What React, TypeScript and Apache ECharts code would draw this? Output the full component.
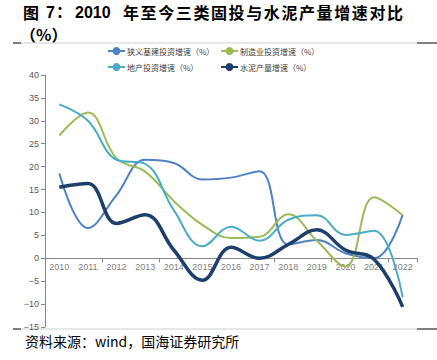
import React, { useEffect, useRef } from "react";
import * as echarts from "echarts";

const categories = ["2010", "2011", "2012", "2013", "2014", "2015", "2016", "2017", "2018", "2019", "2020", "2021", "2022"];
const infra = [18.5, 6.6, 13.8, 21.5, 20.8, 17.2, 17.6, 19.0, 3.0, 4.0, 1.1, 0.0, 9.5];
const manufacturing = [26.8, 31.8, 21.8, 18.9, 12.5, 7.3, 4.4, 4.7, 9.6, 3.8, -1.8, 13.3, 9.4];
const realEstate = [33.6, 30.0, 21.5, 20.6, 10.5, 2.6, 6.9, 3.8, 8.4, 9.4, 5.1, 6.0, -8.5];
const cement = [15.5, 16.3, 7.6, 9.5, 1.8, -4.8, 2.4, 0.0, 3.0, 6.2, 1.8, -0.2, -10.6];
const seriesNames = ["狭义基建投资增速（%）", "制造业投资增速（%）", "地产投资增速（%）", "水泥产量增速（%）"];
const titleHead = "年至今三类固投与水泥产量增速对比";
const sourceText = "资料来源：wind，国海证券研究所";

const LAT = "'Liberation Sans','Noto Sans CJK SC',sans-serif";
const CJK = "'Noto Sans CJK SC','Liberation Sans',sans-serif";

export default function App() {
  const ref = useRef<HTMLDivElement>(null);
  useEffect(() => {
    if (!ref.current) return;
    const chart = echarts.init(ref.current, undefined, { renderer: "svg" });
    const colors = ["#4F81C4", "#9BBB59", "#4BACC6", "#1F3F6B"];
    const widths = [2, 2, 2, 3.5];
    const datas = [infra, manufacturing, realEstate, cement];

    const tStyle = (text: string, fam: string) => ({
      text,
      font: `bold 16px ${fam}`,
      fill: "#000",
      verticalAlign: "middle",
      lineHeight: 16,
    });
    const titleGraphics: any[] = [
      { type: "text", x: 23, y: 12, style: tStyle("图", CJK) },
      { type: "text", x: 46, y: 12, style: tStyle("7", LAT) },
      { type: "text", x: 56, y: 12, style: { ...tStyle("：", CJK), font: `bold 16px ${LAT}` } },
      { type: "text", x: 75, y: 12, style: tStyle("2010", LAT) },
    ];
    titleHead.split("").forEach((ch, i) => {
      titleGraphics.push({ type: "text", x: 123 + i * 17.6, y: 12, style: tStyle(ch, CJK) });
    });
    titleGraphics.push({ type: "text", x: 20, y: 34, style: tStyle("（%）", CJK) });

    const rule = (y: number) => [
      { type: "line", shape: { x1: 21, y1: y, x2: 417, y2: y }, style: { stroke: "#d0d0d0", lineWidth: 1 } },
      { type: "line", shape: { x1: 13, y1: y, x2: 21, y2: y }, style: { stroke: "#555", lineWidth: 1.5 } },
      { type: "line", shape: { x1: 417, y1: y, x2: 437, y2: y }, style: { stroke: "#555", lineWidth: 1.5 } },
    ];

    const legendPos = [
      [107, 51],
      [220, 51],
      [107, 67],
      [220, 67],
    ];

    chart.setOption({
      animation: false,
      color: colors,
      grid: { left: 45, right: 20, top: 75, bottom: 33, containLabel: false },
      legend: seriesNames.map((n, i) => ({
        data: [n],
        left: legendPos[i][0],
        top: legendPos[i][1] - 5,
        itemWidth: 17,
        itemHeight: 10,
        itemGap: 0,
        padding: 0,
        textStyle: { fontSize: 8, color: "#404040", fontFamily: CJK, lineHeight: 10, padding: [0, 0, 0, -3] },
      })),
      xAxis: {
        type: "category",
        data: categories,
        boundaryGap: true,
        axisLine: { onZero: true, lineStyle: { color: "#888", width: 1 } },
        axisTick: { show: true, length: 4, lineStyle: { color: "#888" } },
        axisLabel: { show: false },
      },
      yAxis: {
        type: "value",
        min: -15,
        max: 40,
        interval: 5,
        splitLine: { show: false },
        axisLine: { show: true, lineStyle: { color: "#888", width: 1 } },
        axisTick: { show: true, length: 4, lineStyle: { color: "#888" } },
        axisLabel: {
          fontSize: 9,
          color: "#595959",
          fontFamily: "'Liberation Sans',sans-serif",
          margin: 6,
          formatter: (v: number) => String(v).replace("-", "−"),
        },
      },
      series: [
        ...datas.map((d, i) => ({
          name: seriesNames[i],
          type: "line",
          data: d,
          smooth: 0.4,
          symbol: "none",
          lineStyle: { width: widths[i], color: colors[i] },
          itemStyle: { color: colors[i] },
          z: i === 3 ? 5 : 2,
        })),
        {
          name: "xlabels",
          type: "scatter",
          data: categories.map((c) => [c, 0]),
          symbolSize: 0,
          silent: true,
          z: 1,
          label: {
            show: true,
            position: "bottom",
            distance: 4,
            formatter: (p: any) => p.name || p.value[0],
            fontSize: 9,
            color: "#595959",
            fontFamily: "'Liberation Sans',sans-serif",
          },
        },
      ],
      graphic: [
        ...titleGraphics,
        ...rule(43),
        ...rule(329),
        {
          type: "text",
          x: 25,
          y: 341,
          style: { text: sourceText, font: `14px ${CJK}`, fill: "#000", verticalAlign: "middle" },
        },
      ],
    });
    return () => chart.dispose();
  }, []);
  return <div ref={ref} style={{ width: 437, height: 360, position: "absolute", left: 0, top: 0, background: "#fff" }} />;
}
